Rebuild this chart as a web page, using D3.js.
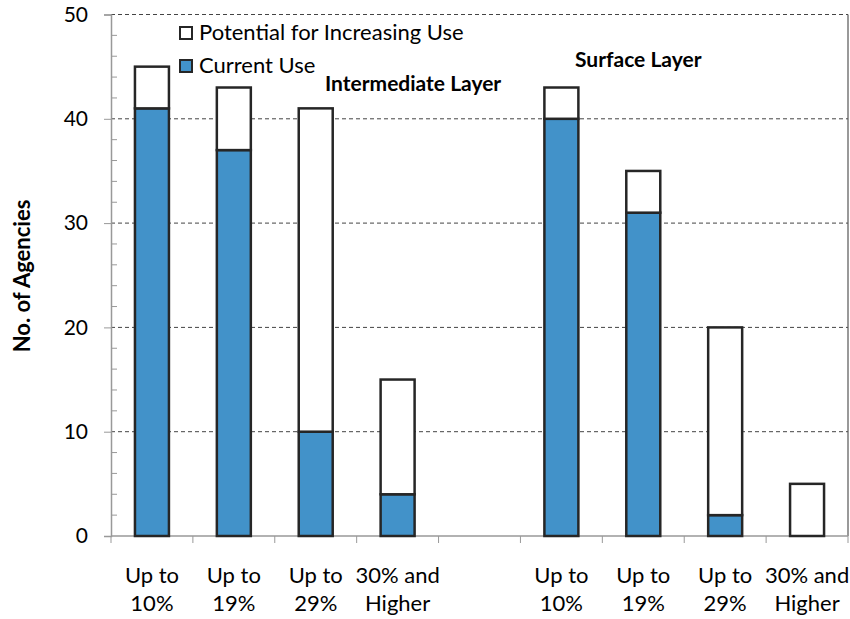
<!DOCTYPE html>
<html>
<head>
<meta charset="utf-8">
<script src="https://cdn.jsdelivr.net/npm/d3@7"></script>
<style>
  html, body { margin: 0; padding: 0; background: #fff; }
  svg { display: block; font-family: Lato, "Open Sans", sans-serif; }
</style>
</head>
<body>
<svg id="chart" width="850" height="619"></svg>
<script>
// Category slots along the x axis (one empty slot separates the two layers)
const slots = ["i10", "i19", "i29", "i30", "gap", "s10", "s19", "s29", "s30"];
const categoryLabels = [
  ["Up to", "10%"], ["Up to", "19%"], ["Up to", "29%"], ["30% and", "Higher"],
  null,
  ["Up to", "10%"], ["Up to", "19%"], ["Up to", "29%"], ["30% and", "Higher"]
];
const barSlots = ["i10", "i19", "i29", "i30", "s10", "s19", "s29", "s30"];
const currentUse = [41, 37, 10, 4, 40, 31, 2, 0];
const potentialUse = [4, 6, 31, 11, 3, 4, 18, 5];
const yTicks = [0, 10, 20, 30, 40, 50];
const seriesNames = ["Potential for Increasing Use", "Current Use"];
const groupTitles = ["Intermediate Layer", "Surface Layer"];

const blue = "#4292c9";
const svg = d3.select("#chart");
const plotLeft = 111, plotRight = 848, plotTop = 14.5, plotBottom = 536;

const x = d3.scaleBand().domain(slots).range([plotLeft, plotRight]).paddingInner(0).paddingOuter(0);
const y = d3.scaleLinear().domain([0, 50]).range([plotBottom, plotTop]);
const barW = x.bandwidth() * 0.415;

// Dashed gridlines
svg.append("g").selectAll("line").data(yTicks.filter(d => d > 0)).join("line")
  .attr("x1", plotLeft).attr("x2", plotRight)
  .attr("y1", d => y(d)).attr("y2", d => y(d))
  .attr("stroke", "#444").attr("stroke-width", 1).attr("stroke-dasharray", "4,3");

// Right border of plot area
svg.append("line").attr("x1", plotRight).attr("x2", plotRight).attr("y1", plotTop).attr("y2", plotBottom)
  .attr("stroke", "#555").attr("stroke-width", 1.2);

// Minor ticks (inside) every 2 units
const minor = d3.range(0, 51, 2).filter(d => d % 10 !== 0);
svg.append("g").selectAll("line").data(minor).join("line")
  .attr("x1", plotLeft).attr("x2", plotLeft + 6)
  .attr("y1", d => y(d)).attr("y2", d => y(d))
  .attr("stroke", "#999").attr("stroke-width", 1);

// Y axis
const yAxis = svg.append("g").attr("transform", `translate(${plotLeft},0)`)
  .call(d3.axisLeft(y).tickValues(yTicks).tickSize(7).tickPadding(16));
yAxis.select(".domain").attr("stroke", "#999").attr("stroke-width", 1.5);
yAxis.selectAll(".tick line").attr("stroke", "#999").attr("stroke-width", 1);
yAxis.selectAll(".tick text").attr("font-size", 21).attr("fill", "#000")
  .attr("font-family", "Lato, sans-serif");

// X axis (category boundaries)
const bounds = slots.map(s => x(s)).concat([plotRight]);
svg.append("line").attr("x1", plotLeft).attr("x2", plotRight).attr("y1", plotBottom).attr("y2", plotBottom)
  .attr("stroke", "#999").attr("stroke-width", 1.5);
svg.append("g").selectAll("line").data(bounds).join("line")
  .attr("x1", d => d).attr("x2", d => d).attr("y1", plotBottom).attr("y2", plotBottom + 7)
  .attr("stroke", "#999").attr("stroke-width", 1);

// Stacked bars
const bars = barSlots.map((s, i) => ({ slot: s, cur: currentUse[i], pot: potentialUse[i] }));
const g = svg.append("g");
bars.forEach(b => {
  const cx = x(b.slot) + x.bandwidth() / 2;
  if (b.cur > 0) {
    g.append("rect").attr("x", cx - barW / 2).attr("width", barW)
      .attr("y", y(b.cur)).attr("height", y(0) - y(b.cur))
      .attr("fill", blue).attr("stroke", "#262626").attr("stroke-width", 2.5);
  }
  g.append("rect").attr("x", cx - barW / 2).attr("width", barW)
    .attr("y", y(b.cur + b.pot)).attr("height", y(b.cur) - y(b.cur + b.pot))
    .attr("fill", "#fff").attr("stroke", "#262626").attr("stroke-width", 2.5);
});

// Category labels
const lab = svg.append("g").attr("font-size", 22).attr("text-anchor", "middle").attr("fill", "#000");
slots.forEach((s, i) => {
  if (!categoryLabels[i]) return;
  const cx = x(s) + x.bandwidth() / 2;
  lab.append("text").attr("x", cx).attr("y", 583).text(categoryLabels[i][0]);
  lab.append("text").attr("x", cx).attr("y", 611).text(categoryLabels[i][1]);
});

// Y axis title
svg.append("text").attr("transform", "translate(30,276) rotate(-90)")
  .attr("text-anchor", "middle").attr("font-size", 22).attr("font-weight", "bold")
  .text("No. of Agencies");

// Legend
const legend = svg.append("g");
const legendFill = ["#fff", blue];
seriesNames.forEach((name, i) => {
  const ly = 27 + i * 33;
  legend.append("rect").attr("x", 180).attr("y", ly).attr("width", 12).attr("height", 12)
    .attr("fill", legendFill[i]).attr("stroke", "#262626").attr("stroke-width", 2);
  legend.append("text").attr("x", 199).attr("y", ly + 13).attr("font-size", 22).text(name);
});

// Group titles
svg.append("text").attr("x", 325).attr("y", 91).attr("font-size", 21).attr("font-weight", "bold")
  .text(groupTitles[0]);
svg.append("text").attr("x", 575).attr("y", 67).attr("font-size", 21).attr("font-weight", "bold")
  .text(groupTitles[1]);
</script>
</body>
</html>
